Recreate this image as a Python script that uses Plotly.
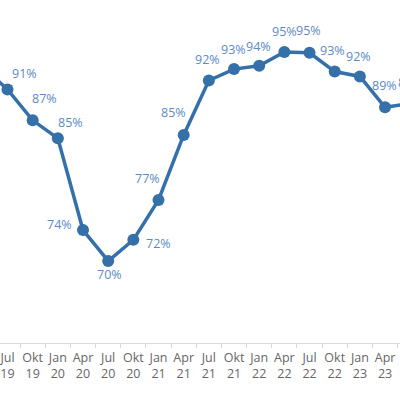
import plotly.graph_objects as go

months = ["Apr", "Jul", "Okt", "Jan", "Apr", "Jul", "Okt", "Jan", "Apr", "Jul", "Okt",
          "Jan", "Apr", "Jul", "Okt", "Jan", "Apr", "Jul"]
years = ["19", "19", "19", "20", "20", "20", "20", "21", "21", "21", "21",
         "22", "22", "22", "22", "23", "23", "23"]
values = [93.6, 90.8, 87.0, 84.8, 73.5, 69.7, 72.3, 77.2, 85.2, 91.9, 93.3,
          93.7, 95.4, 95.3, 93.0, 92.4, 88.6, 89.1]

# label offsets (px) of each data label relative to its point
label_dx = [0, 17, 12, 13, -24, 1, 25, -11, -10, -1, -1, -1, 0, -1, -2, -1, -1, 0]
label_dy = [21, 16, 22, 16, 6, -14, -4, 22, 22, 21, 20, 19, 21, 22, 21, 20, 22, 21]

cats = [f"{m} {y}" for m, y in zip(months, years)]
ticktext = [f"{m}<br>{y}" for m, y in zip(months, years)]

LINE = "#3570a8"
TEXT = "#5b8bc4"

fig = go.Figure()
fig.add_trace(go.Scatter(
    x=cats, y=values, mode="lines+markers",
    line=dict(color=LINE, width=3.5),
    marker=dict(color=LINE, size=12),
    hoverinfo="skip", cliponaxis=False,
))

for c, v, dx, dy in zip(cats, values, label_dx, label_dy):
    fig.add_annotation(x=c, y=v, text=f"{int(v + 0.5)}%", showarrow=False,
                       xshift=dx, yshift=dy,
                       font=dict(family="Open Sans", size=12.5, color=TEXT))

# the figure is wider than the 400 px window; the chart continues past its right edge
W = 440
PX_PER_CAT = 25.17
x0 = 0.702

fig.update_layout(
    width=W, height=395,
    margin=dict(l=0, r=0, t=0, b=52, autoexpand=False),
    paper_bgcolor="white", plot_bgcolor="white",
    showlegend=False,
    xaxis=dict(type="category", categoryorder="array", categoryarray=cats,
               tickvals=cats, ticktext=ticktext, tickangle=0, automargin=False,
               range=[x0, x0 + W / PX_PER_CAT], tickson="boundaries",
               ticks="outside", ticklen=4, tickcolor="#d9d9d9",
               showline=True, linecolor="#d9d9d9", linewidth=1,
               showgrid=False, zeroline=False, ticklabelstandoff=3,
               tickfont=dict(family="Open Sans", size=12.5, color="#666666")),
    yaxis=dict(range=[59.61, 101.8], visible=False, showgrid=False, zeroline=False,
               automargin=False),
)

fig.write_html("out.html", config={"displayModeBar": False},
               post_script="document.body.style.margin='0';document.body.style.overflow='hidden';")
